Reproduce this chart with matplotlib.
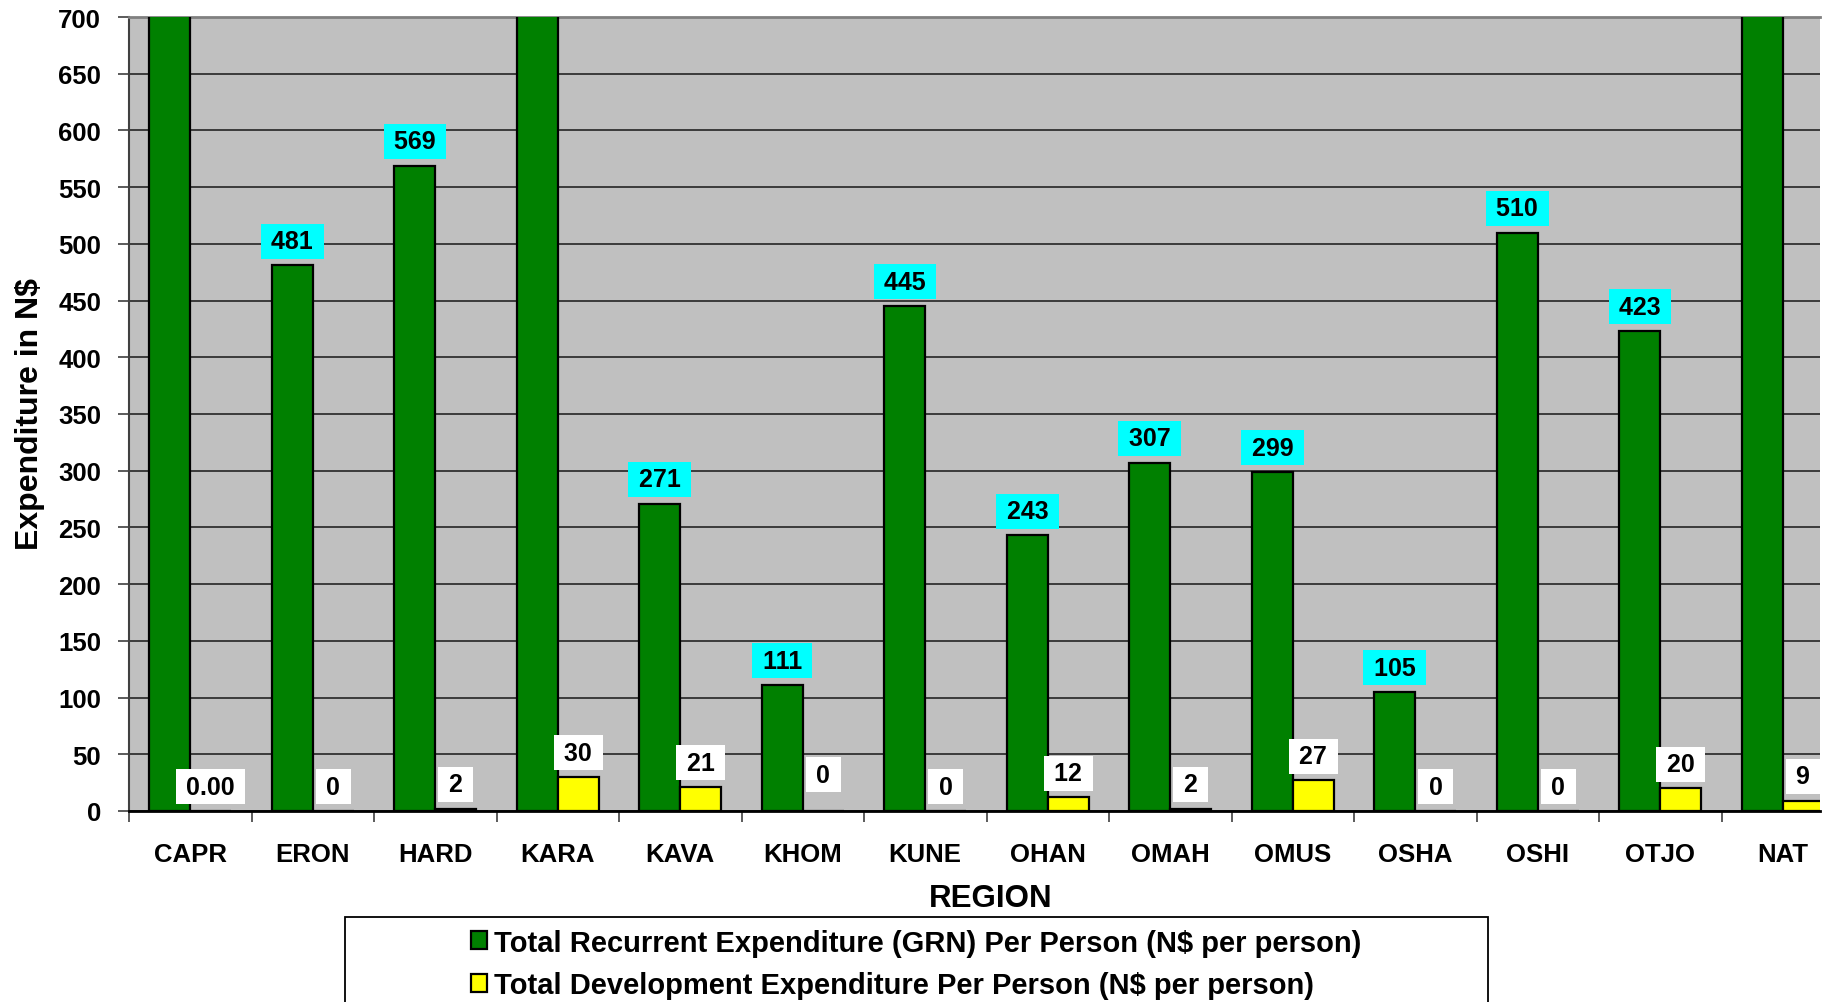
import matplotlib
matplotlib.use("Agg")
import matplotlib.pyplot as plt
from matplotlib.patches import Patch, Rectangle
import numpy as np

plt.rcParams['font.family'] = ['Liberation Sans', 'DejaVu Sans']
plt.rcParams['font.weight'] = 'bold'

regions = ["CAPR", "ERON", "HARD", "KARA", "KAVA", "KHOM", "KUNE",
           "OHAN", "OMAH", "OMUS", "OSHA", "OSHI", "OTJO", "NAT"]
# Recurrent expenditure per person (CAPR, KARA, NAT exceed the 700 axis limit; estimated)
recurrent = [820, 481, 569, 880, 271, 111, 445, 243, 307, 299, 105, 510, 423, 760]
development = [0, 0, 2, 30, 21, 0, 0, 12, 2, 27, 0, 0, 20, 9]
dev_labels = ["0.00", "0", "2", "30", "21", "0", "0", "12", "2", "27", "0", "0", "20", "9"]
yticks = list(range(0, 701, 50))
legend_labels = ["Total Recurrent Expenditure (GRN) Per Person (N$ per person)",
                 "Total Development Expenditure Per Person (N$ per person)"]

W, H = 1830, 1003
fig = plt.figure(figsize=(W / 100, H / 100), dpi=100)
left, right, top, bottom = 129, 1820, 18, 812
ax = fig.add_axes([left / W, 1 - bottom / H, (right - left) / W, (bottom - top) / H])
ax.set_facecolor('#C0C0C0')

x = np.arange(len(regions))
bw = 1 / 3
green = '#008000'
yellow = '#FFFF00'
ax.bar(x - bw / 2, recurrent, width=bw, color=green, edgecolor='black', linewidth=1.6, zorder=3)
ax.bar(x + bw / 2, development, width=bw, color=yellow, edgecolor='black', linewidth=1.6, zorder=3)

cat_px = 122.5
ax.set_xlim(-0.5, -0.5 + (right - left) / cat_px)
ax.set_ylim(0, 700)
ax.set_yticks(yticks)
ax.yaxis.grid(True, color='#303030', linewidth=1.3, zorder=1)
ax.set_axisbelow(True)

ax.set_xticks(np.arange(len(regions)) - 0.5, minor=False)
ax.set_xticklabels([])
ax.set_xticks(x, minor=True)
ax.set_xticklabels(regions, minor=True, fontsize=18.5, fontweight='bold')
ax.tick_params(axis='x', which='minor', length=0, pad=22)
ax.tick_params(axis='x', which='major', length=8, width=1.2, direction='out', color='#404040')
ax.tick_params(axis='y', length=8, width=1.2, direction='out', pad=12, labelsize=18.5, color='#404040')
for lab in ax.get_yticklabels():
    lab.set_fontweight('bold')

ax.spines['top'].set_color('#808080')
ax.spines['top'].set_linewidth(2)
ax.spines['right'].set_visible(False)
ax.spines['left'].set_color('#404040')
ax.spines['left'].set_linewidth(1.5)
ax.spines['bottom'].set_color('black')
ax.spines['bottom'].set_linewidth(2)

TS = "\u2009"
# data labels
for xi, v in zip(x, recurrent):
    ax.annotate(f"{TS}{v}{TS}", xy=(xi - bw / 2, v), xytext=(0, 17.5), textcoords='offset points',
                ha='center', va='center', fontsize=18, fontweight='bold', zorder=5,
                bbox=dict(boxstyle='square,pad=0.22', facecolor='#00FFFF', edgecolor='none'))
extra = {"KHOM": 8.5}
for xi, v, lab, r in zip(x, development, dev_labels, regions):
    ax.annotate(f"{TS}{lab}{TS}", xy=(xi + bw / 2, v), xytext=(0, 17.5 + extra.get(r, 0)),
                textcoords='offset points', ha='center', va='center', fontsize=18,
                fontweight='bold', zorder=5, annotation_clip=False,
                bbox=dict(boxstyle='square,pad=0.22', facecolor='white', edgecolor='none'))

fig.text(30 / W, 1 - 414 / H, "Expenditure in N$", rotation=90, ha='center', va='center',
         fontsize=23, fontweight='bold')
fig.text(991 / W, 1 - 899 / H, "REGION", ha='center', va='center', fontsize=22.5, fontweight='bold')

# legend
fig.patches.append(Rectangle((345 / W, 1 - 1010 / H), (1488 - 345) / W, (1010 - 918) / H,
                             transform=fig.transFigure, facecolor='white', edgecolor='black',
                             linewidth=1.3))
handles = [Patch(facecolor=green, edgecolor='black', linewidth=1.6),
           Patch(facecolor=yellow, edgecolor='black', linewidth=1.6)]
fig.legend(handles, legend_labels, loc='upper left', bbox_to_anchor=(456 / W, 1 - 915 / H),
           frameon=False, borderpad=0, handlelength=0.55, handleheight=0.55,
           handletextpad=0.26, labelspacing=0.5, prop={'weight': 'bold', 'size': 21})

fig.savefig("out.png", dpi=100, facecolor='white')
